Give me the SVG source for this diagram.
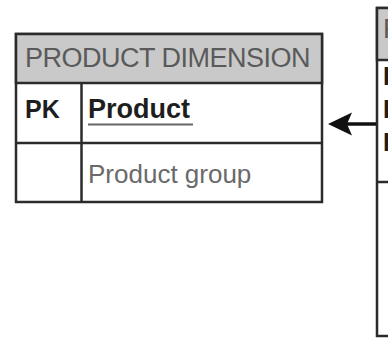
<svg xmlns="http://www.w3.org/2000/svg" width="388" height="338" viewBox="0 0 388 338">
<style>
.box{fill:#ffffff;stroke:#2b2b2b;stroke-width:2.5}
.hdr{fill:#c9c9c9;stroke:#2b2b2b;stroke-width:2.5}
.ln{stroke:#2b2b2b;stroke-width:2.5;fill:none}
.ht{font-family:"Liberation Sans",Arial,sans-serif;font-size:27px;fill:#5a5a5a;letter-spacing:-0.5px}
.kt{font-family:"Liberation Sans",Arial,sans-serif;font-size:25px;font-weight:bold;fill:#1e1e1e}
.ft{font-family:"Liberation Sans",Arial,sans-serif;font-size:26px;fill:#6a6a6a}
.pt{font-family:"Liberation Sans",Arial,sans-serif;font-size:27px;font-weight:bold;fill:#1e1e1e}
</style>
<g id="product-dimension">
<rect class="box" x="16" y="34" width="306" height="168"/>
<rect class="hdr" x="16" y="34" width="306" height="49"/>
<line class="ln" x1="16" y1="143" x2="322" y2="143"/>
<line class="ln" x1="81.5" y1="83" x2="81.5" y2="202"/>
<text class="ht" x="25" y="67">PRODUCT DIMENSION</text>
<text class="kt" x="25" y="117.5">PK</text>
<text class="pt" x="88" y="117.5">Product</text>
<line x1="88" y1="124.5" x2="193" y2="124.5" stroke="#666" stroke-width="2"/>
<text class="ft" x="88" y="183">Product group</text>
</g>
<g id="fact-table">
<rect class="box" x="377" y="8" width="40" height="328"/>
<rect class="hdr" x="377" y="8" width="40" height="52"/>
<line class="ln" x1="377" y1="182" x2="420" y2="182"/>
<text class="ht" x="383" y="38">F</text>
<text class="kt" x="383" y="85">F</text>
<text class="kt" x="383" y="118">F</text>
<text class="kt" x="383" y="151">F</text>
</g>
<g id="connectors">
<line x1="376" y1="124" x2="346" y2="124" stroke="#111" stroke-width="3.5"/>
<polygon points="328,124 352,112.5 347,124 352,135.5" fill="#111"/>
</g>
</svg>
